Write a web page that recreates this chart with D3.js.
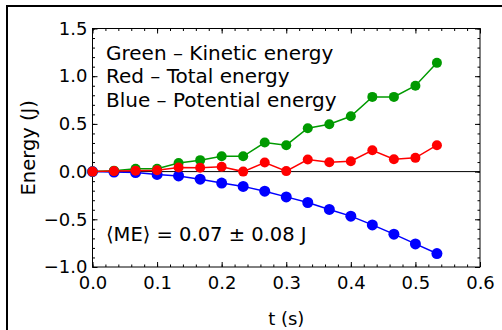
<!DOCTYPE html>
<html>
<head>
<meta charset="utf-8">
<script src="https://cdn.jsdelivr.net/npm/d3@7"></script>
<style>
  body { margin: 0; background: #fff; }
  svg { display: block; font-family: "DejaVu Sans", sans-serif; }
</style>
</head>
<body>
<div id="chart"></div>
<script>
// time samples (s), 30 fps video
const times = [0, 0.0333, 0.0667, 0.1, 0.1333, 0.1667, 0.2, 0.2333, 0.2667, 0.3, 0.3333, 0.3667, 0.4, 0.4333, 0.4667, 0.5, 0.5333];
const kinetic = [0, 0.01, 0.03, 0.03, 0.09, 0.12, 0.16, 0.16, 0.305, 0.277, 0.455, 0.497, 0.58, 0.783, 0.783, 0.90, 1.14];
const total = [0, 0.005, 0.01, 0.015, 0.043, 0.04, 0.05, 0.0, 0.095, 0.005, 0.127, 0.098, 0.109, 0.224, 0.13, 0.144, 0.277];
const potential = [0, -0.005, -0.01, -0.03, -0.045, -0.08, -0.12, -0.155, -0.205, -0.265, -0.324, -0.397, -0.467, -0.559, -0.656, -0.758, -0.859];
const xTicks = [0, 0.1, 0.2, 0.3, 0.4, 0.5, 0.6];
const yTicks = [-1.0, -0.5, 0.0, 0.5, 1.0, 1.5];
const legendLines = ["Green \u2013 Kinetic energy", "Red \u2013 Total energy", "Blue \u2013 Potential energy"];
const annotation = "\u27E8ME\u27E9 = 0.07 \u00B1 0.08 J";

const W = 502, H = 330;
const margin = { top: 28.5, right: 22, bottom: 63, left: 92.5 };
const width = W - margin.left - margin.right;
const height = H - margin.top - margin.bottom;

const svg = d3.select("#chart").append("svg")
  .attr("width", W)
  .attr("height", H);

// outer figure frame (cropped at right/bottom)
svg.append("path")
  .attr("d", `M7,${H + 5}V6H${W + 5}`)
  .attr("fill", "none")
  .attr("stroke", "#000")
  .attr("stroke-width", 2);

const g = svg.append("g")
  .attr("transform", `translate(${margin.left},${margin.top})`);

const x = d3.scaleLinear().domain([0, 0.6]).range([0, width]);
const y = d3.scaleLinear().domain([-1.0, 1.5]).range([height, 0]);

const fmt = d3.format(".1f");
const minorX = d3.range(0, 0.6001, 0.02);
const minorY = d3.range(-1.0, 1.5001, 0.1);

function styleAxis(sel) {
  sel.select(".domain").remove();
  sel.selectAll("line").attr("stroke", "#000").attr("stroke-width", 1);
  sel.selectAll("text").attr("font-size", 18).attr("fill", "#000")
    .attr("font-family", "DejaVu Sans, sans-serif");
}

// minor ticks, all four sides, pointing inward
g.append("g").attr("transform", `translate(0,${height})`)
  .call(d3.axisBottom(x).tickValues(minorX).tickSize(-2.5).tickFormat(""))
  .call(styleAxis);
g.append("g")
  .call(d3.axisTop(x).tickValues(minorX).tickSize(-2.5).tickFormat(""))
  .call(styleAxis);
g.append("g")
  .call(d3.axisLeft(y).tickValues(minorY).tickSize(-2.5).tickFormat(""))
  .call(styleAxis);
g.append("g").attr("transform", `translate(${width},0)`)
  .call(d3.axisRight(y).tickValues(minorY).tickSize(-2.5).tickFormat(""))
  .call(styleAxis);

// major ticks
g.append("g").attr("transform", `translate(0,${height})`)
  .call(d3.axisBottom(x).tickValues(xTicks).tickSize(-5).tickPadding(9).tickFormat(fmt))
  .call(styleAxis);
g.append("g")
  .call(d3.axisTop(x).tickValues(xTicks).tickSize(-5).tickFormat(""))
  .call(styleAxis);
g.append("g")
  .call(d3.axisLeft(y).tickValues(yTicks).tickSize(-5).tickPadding(5).tickFormat(fmt))
  .call(styleAxis);
g.append("g").attr("transform", `translate(${width},0)`)
  .call(d3.axisRight(y).tickValues(yTicks).tickSize(-5).tickFormat(""))
  .call(styleAxis);

// plot frame
g.append("rect")
  .attr("width", width)
  .attr("height", height)
  .attr("fill", "none")
  .attr("stroke", "#000")
  .attr("stroke-width", 1);

// zero line
g.append("line")
  .attr("x1", 0).attr("x2", width)
  .attr("y1", y(0)).attr("y2", y(0))
  .attr("stroke", "#000")
  .attr("stroke-width", 1);

const series = [
  { values: potential, color: "#0000ff", r: 5.5 },
  { values: kinetic, color: "#009a00", r: 5 },
  { values: total, color: "#ff0000", r: 5 }
];

const line = d3.line()
  .x(d => x(d[0]))
  .y(d => y(d[1]));

series.forEach(s => {
  const pts = times.map((t, i) => [t, s.values[i]]);
  g.append("path")
    .datum(pts)
    .attr("fill", "none")
    .attr("stroke", s.color)
    .attr("stroke-width", 1.5)
    .attr("d", line);
  g.selectAll(null)
    .data(pts)
    .enter().append("circle")
    .attr("cx", d => x(d[0]))
    .attr("cy", d => y(d[1]))
    .attr("r", s.r)
    .attr("fill", s.color);
});

// legend text
legendLines.forEach((txt, i) => {
  g.append("text")
    .attr("x", 13.5)
    .attr("y", 31 + i * 23.5)
    .attr("font-size", 20)
    .attr("fill", "#000")
    .text(txt);
});

g.append("text")
  .attr("x", 13.5)
  .attr("y", 212.5)
  .attr("font-size", 19.5)
  .attr("fill", "#000")
  .text(annotation);

// axis labels
svg.append("text")
  .attr("x", margin.left + width / 2)
  .attr("y", 325)
  .attr("text-anchor", "middle")
  .attr("font-size", 18)
  .text("t (s)");

svg.append("text")
  .attr("transform", `translate(35,${margin.top + height / 2}) rotate(-90)`)
  .attr("text-anchor", "middle")
  .attr("font-size", 19.5)
  .text("Energy (J)");
</script>
</body>
</html>
